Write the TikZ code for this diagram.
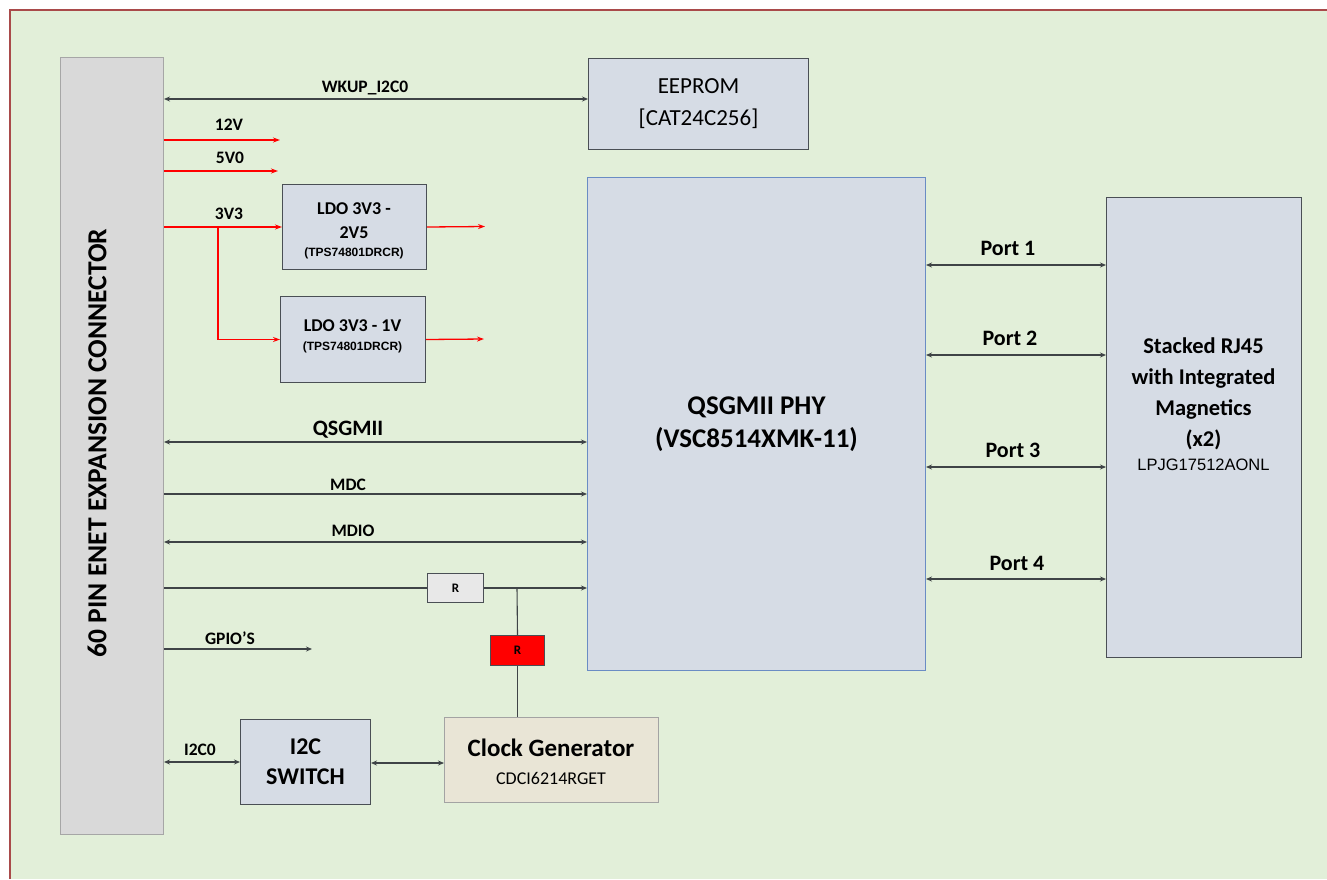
\documentclass[tikz,border=0pt]{standalone}
\usepackage{fontspec}
\setmainfont{Carlito}
\newfontfamily\arialf{Liberation Sans}
\usetikzlibrary{arrows.meta}
\definecolor{bg}{HTML}{E2EFD9}
\definecolor{frame}{HTML}{A94A4A}
\definecolor{connfill}{HTML}{D9D9D9}
\definecolor{connedge}{HTML}{A6A6A6}
\definecolor{boxfill}{HTML}{D6DCE5}
\definecolor{boxedge}{HTML}{4A4F55}
\definecolor{phyedge}{HTML}{6A8CC4}
\definecolor{clkfill}{HTML}{E9E5D6}
\definecolor{clkedge}{HTML}{A3A3A3}
\definecolor{rfill}{HTML}{E8E8E8}
\definecolor{wire}{HTML}{3F4447}
\definecolor{pwr}{HTML}{FF0000}
\begin{document}
\begin{tikzpicture}[x=1pt,y=-1pt,
  blk/.style={draw=boxedge, fill=boxfill, line width=1pt, inner sep=0pt, anchor=north west, align=center, text=black},
  sig/.style={draw=wire, line width=1.1pt, -{Stealth[length=6pt,width=5pt]}},
  bi/.style={draw=wire, line width=1.1pt, {Stealth[length=6pt,width=5pt]}-{Stealth[length=6pt,width=5pt]}},
  pw/.style={draw=pwr, line width=1.3pt, -{Stealth[length=7pt,width=5pt]}},
  pwl/.style={draw=pwr, line width=1.3pt},
  plain/.style={draw=wire, line width=1.1pt},
  lbl/.style={font=\bfseries\fontsize{17.5}{20}\selectfont, text=black, inner sep=0pt},
  plbl/.style={font=\bfseries\fontsize{22}{26}\selectfont, text=black, inner sep=0pt}
]
\useasboundingbox (0,0) rectangle (1327,879);
\fill[bg] (10,10) rectangle (1327,879);
\draw[frame, line width=2pt] (1327,10) -- (10,10) -- (10,879);

% connector
\node[draw=connedge, fill=connfill, line width=1pt, inner sep=0pt, anchor=north west,
      minimum width=103pt, minimum height=777pt] (conn) at (60,57) {};
\node[rotate=90, font=\bfseries\fontsize{27.5}{30}\selectfont, text=black, inner sep=0pt] (conntxt) at (97,443)
  {60 PIN ENET EXPANSION CONNECTOR};

% boxes
\node[blk, minimum width=220pt, minimum height=91pt, font=\fontsize{23}{32}\selectfont]
  (eeprom) at (588,58) {EEPROM\\{[CAT24C256]}};
\node[blk, draw=phyedge, minimum width=338pt, minimum height=493pt,
      font=\bfseries\fontsize{27}{33}\selectfont] (phy) at (587,177) {QSGMII PHY\\(VSC8514XMK-11)};
\node[blk, minimum width=195pt, minimum height=460pt] (rj) at (1106,197) {};
\node[align=center, font=\bfseries\fontsize{22.5}{31}\selectfont, text=black, inner sep=0pt] (rjtxt)
  at (1203.5,404) {Stacked RJ45\\with Integrated\\Magnetics\\(x2)\\[-7pt]{\arialf\mdseries\fontsize{16.5}{18}\selectfont LPJG17512AONL}};
\node[blk, minimum width=144pt, minimum height=85pt] (ldoa) at (282,184) {};
\node[align=center, font=\bfseries\fontsize{18}{24}\selectfont, text=black, inner sep=0pt] (ldoatxt)
  at (354,231) {LDO 3V3 -\\2V5\\[-6pt]{\arialf\bfseries\fontsize{12}{14}\selectfont (TPS74801DRCR)}};
\node[blk, minimum width=145pt, minimum height=86pt] (ldob) at (280,296) {};
\node[align=center, font=\bfseries\fontsize{18}{24}\selectfont, text=black, inner sep=0pt] (ldobtxt)
  at (352.5,336) {LDO 3V3 - 1V\\[-5pt]{\arialf\bfseries\fontsize{12}{14}\selectfont (TPS74801DRCR)}};
\node[blk, fill=rfill, minimum width=56pt, minimum height=29pt,
      font=\bfseries\fontsize{13}{15}\selectfont] (ra) at (427,573) {R};
\node[blk, fill=pwr, minimum width=54pt, minimum height=30pt,
      font=\bfseries\fontsize{13}{15}\selectfont] (rb) at (490,635) {R};
\node[blk, minimum width=130pt, minimum height=85pt, font=\bfseries\fontsize{24}{30}\selectfont] (i2c) at (240,719) {I2C\\SWITCH};
\node[blk, fill=clkfill, draw=clkedge, minimum width=214pt, minimum height=85pt] (clk) at (444,717) {};
\node[align=center, text=black, inner sep=0pt, font=\fontsize{18}{28}\selectfont] (clktxt) at (551,761.5)
  {{\bfseries\fontsize{25}{28}\selectfont Clock Generator}\\{\fontsize{18}{28}\selectfont CDCI6214RGET}};

% coordinates for free ends / levels
\coordinate (p12) at (280,140);
\coordinate (p5) at (278,171);
\coordinate (oa) at (485,226.5);
\coordinate (ob) at (484,339);
\coordinate (brk) at (218,232);
\coordinate (gpio) at (312,649);
\coordinate (jn) at (517,587.5);

% top signals
\draw[bi] (conn.east |- 0,99) -- (eeprom.west |- 0,99);
\node[lbl] (lwk) at (365,88) {WKUP\_I2C0};

% power
\draw[pw] (conn.east |- p12) -- (p12);
\node[lbl] (l12) at (229,125) {12V};
\draw[pw] (conn.east |- p5) -- (p5);
\node[lbl] (l5) at (230,158) {5V0};
\draw[pw] (conn.east |- ldoa.west) -- (ldoa.west);
\node[lbl] (l33) at (229,214) {3V3};
\draw[pwl] (brk |- ldoa.west) -- (brk |- ldob.west);
\draw[pw] (brk |- ldob.west) -- (ldob.west);
\draw[pw] (ldoa.east) -- (oa);
\draw[pw] (ldob.east) -- (ob);

% PHY signals
\draw[bi] (conn.east |- 0,442) -- (phy.west |- 0,442);
\node[font=\bfseries\fontsize{22}{26}\selectfont, text=black, inner sep=0pt] (lqs) at (348,430) {QSGMII};
\draw[sig] (conn.east |- 0,494) -- (phy.west |- 0,494);
\node[lbl] (lmdc) at (348,485) {MDC};
\draw[bi] (conn.east |- 0,542) -- (phy.west |- 0,542);
\node[lbl] (lmdio) at (353,531) {MDIO};
\draw[plain] (conn.east |- ra.west) -- (ra.west);
\draw[sig] (ra.east) -- (phy.west |- ra.east);
\draw[plain] (jn) -- (rb.north);
\draw[plain] (rb.south) -- (rb.south |- clk.north);

% GPIO
\draw[sig] (conn.east |- gpio) -- (gpio);
\node[lbl] (lgpio) at (230,638) {GPIO’S};

% I2C
\draw[bi] (conn.east |- i2c.west) -- (i2c.west);
\node[lbl] (li2c) at (200,750) {I2C0};
\draw[bi] (i2c.east |- 0,763) -- (clk.west |- 0,763);

% ports
\draw[bi] (phy.east |- 0,265) -- (rj.west |- 0,265);
\node[plbl] (lp1) at (1008,248) {Port 1};
\draw[bi] (phy.east |- 0,355) -- (rj.west |- 0,355);
\node[plbl] (lp2) at (1010,338) {Port 2};
\draw[bi] (phy.east |- 0,467) -- (rj.west |- 0,467);
\node[plbl] (lp3) at (1013,450) {Port 3};
\draw[bi] (phy.east |- 0,579) -- (rj.west |- 0,579);
\node[plbl] (lp4) at (1017,563) {Port 4};
\end{tikzpicture}
\end{document}
